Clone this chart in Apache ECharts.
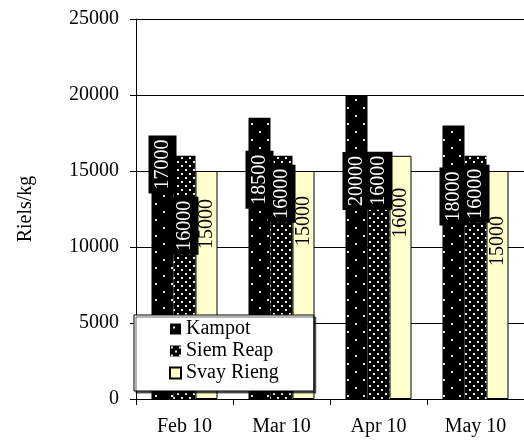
<!DOCTYPE html>
<html>
<head>
<meta charset="utf-8">
<script src="https://cdn.jsdelivr.net/npm/echarts@6/dist/echarts.min.js"></script>
<style>
  html, body { margin: 0; padding: 0; background: #fff; }
  #chart { width: 524px; height: 440px; }
</style>
</head>
<body>
<div id="chart"></div>
<script>
var months = ['Feb 10', 'Mar 10', 'Apr 10', 'May 10'];
var kampot = [17000, 18500, 20000, 18000];
var siemReap = [16000, 16000, 16000, 16000];
var svayRieng = [15000, 15000, 16000, 15000];

// where each value label sits, px below the bar top (label centre)
var kampotLabelDy = [24, 62, 86, 71];
var siemLabelDy = [70, 38, 25, 38];
var svayLabelDy = [53, 50, 57, 70];

var FONT = 'Liberation Serif';

function dotPattern(size, dots) {
    var c = document.createElement('canvas');
    c.width = size;
    c.height = size;
    var ctx = c.getContext('2d');
    ctx.fillStyle = '#000';
    ctx.fillRect(0, 0, size, size);
    ctx.fillStyle = '#e8e8e8';
    dots.forEach(function (d) {
        ctx.fillRect(d[0], d[1], 2, 2);
    });
    return { image: c, repeat: 'repeat' };
}

var kampotFill = dotPattern(16, [[3, 3], [11, 11]]);
var siemFill = dotPattern(8, [[1, 1], [5, 5]]);

function makeData(values, dys) {
    return values.map(function (v, i) {
        return { value: v, label: { position: ['50%', dys[i]] } };
    });
}

var darkLabel = {
    show: true,
    rotate: 90,
    align: 'center',
    verticalAlign: 'middle',
    color: '#fff',
    fontFamily: FONT,
    fontSize: 20,
    lineHeight: 22,
    backgroundColor: '#000',
    padding: [3, 4, 3, 4]
};

var myChart = echarts.init(document.getElementById('chart'));

var option = {
    animation: false,
    backgroundColor: '#fff',
    textStyle: { fontFamily: FONT, color: '#000' },
    grid: { left: 136, top: 19, width: 392, height: 380 },
    legend: {
        orient: 'vertical',
        left: 134,
        top: 315,
        padding: [4, 35, 8, 35],
        itemWidth: 11,
        itemHeight: 11,
        itemGap: 2,
        icon: 'rect',
        backgroundColor: '#fff',
        borderColor: '#000',
        borderWidth: 1,
        shadowColor: 'rgba(0,0,0,0.6)',
        shadowOffsetX: 2,
        shadowOffsetY: 2,
        shadowBlur: 0,
        textStyle: { fontFamily: FONT, fontSize: 20, color: '#000', lineHeight: 20 },
        data: ['Kampot', 'Siem Reap', 'Svay Rieng']
    },
    xAxis: {
        type: 'category',
        data: months,
        axisLine: { lineStyle: { color: '#000', width: 1 } },
        axisTick: { show: true, length: 6, lineStyle: { color: '#000' } },
        axisLabel: { fontFamily: FONT, fontSize: 20, color: '#000', margin: 18 }
    },
    yAxis: {
        type: 'value',
        min: 0,
        max: 25000,
        interval: 5000,
        name: 'Riels/kg',
        nameLocation: 'middle',
        nameGap: 100,
        nameTextStyle: { fontFamily: FONT, fontSize: 20, color: '#000' },
        axisLine: { show: true, lineStyle: { color: '#000', width: 1 } },
        axisTick: { show: true, length: 6, lineStyle: { color: '#000' } },
        axisLabel: {
            fontFamily: FONT, fontSize: 20, color: '#000', margin: 17,
            formatter: function (v) { return String(v); }
        },
        splitLine: { show: true, lineStyle: { color: '#000', width: 1 } }
    },
    series: [{
        name: 'Kampot',
        type: 'bar',
        barWidth: 22,
        barGap: '0%',
        itemStyle: { color: kampotFill },
        label: darkLabel,
        data: makeData(kampot, kampotLabelDy)
    }, {
        name: 'Siem Reap',
        type: 'bar',
        barWidth: 22,
        barGap: '0%',
        itemStyle: { color: siemFill },
        label: darkLabel,
        data: makeData(siemReap, siemLabelDy)
    }, {
        name: 'Svay Rieng',
        type: 'bar',
        barWidth: 22,
        barGap: '0%',
        itemStyle: { color: '#ffffcc', borderColor: '#000', borderWidth: 1 },
        label: {
            show: true,
            rotate: 90,
            align: 'center',
            verticalAlign: 'middle',
            color: '#000',
            fontFamily: FONT,
            fontSize: 20
        },
        data: makeData(svayRieng, svayLabelDy)
    }]
};

myChart.setOption(option);
</script>
</body>
</html>
